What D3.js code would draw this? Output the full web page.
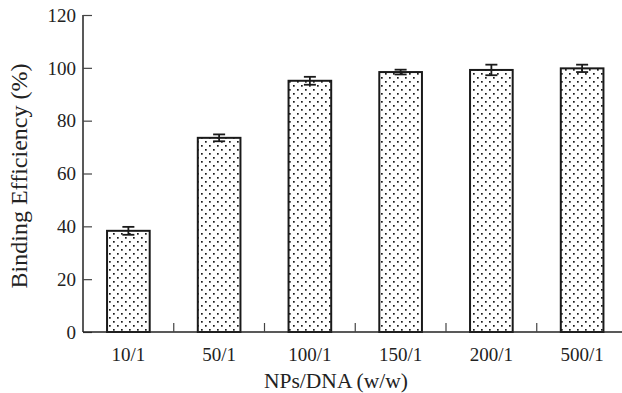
<!DOCTYPE html>
<html><head><meta charset="utf-8">
<script src="https://cdn.jsdelivr.net/npm/d3@7"></script>
<style>body{margin:0;background:#fff}svg{display:block}text{font-family:"Liberation Serif","Times New Roman",serif;fill:#222}</style>
</head><body>
<script>
const categories = ["10/1","50/1","100/1","150/1","200/1","500/1"];
const values = [38.3, 73.5, 95.1, 98.4, 99.2, 99.8];
const errors = [1.5, 1.3, 1.5, 0.9, 2.0, 1.4];
const yTicks = [0,20,40,60,80,100,120];

const W=622,H=393;
const svg=d3.select("body").append("svg").attr("width",W).attr("height",H);
const x=d3.scaleBand().domain(categories).range([83,627.5]).paddingInner(0.53).paddingOuter(0.265);
const y=d3.scaleLinear().domain([0,120]).range([332,15]);

const defs=svg.append("defs");
const pat=defs.append("pattern").attr("id","dots").attr("patternUnits","userSpaceOnUse")
  .attr("width",8).attr("height",8).attr("x",1).attr("y",1);
pat.append("rect").attr("x",0).attr("y",0).attr("width",1.7).attr("height",1.7).attr("fill","#1a1a1a");
pat.append("rect").attr("x",4).attr("y",4).attr("width",1.7).attr("height",1.7).attr("fill","#1a1a1a");

// bars
svg.selectAll("rect.bar").data(categories).enter().append("rect").attr("class","bar")
  .attr("x",d=>x(d)).attr("width",x.bandwidth())
  .attr("y",(d,i)=>y(values[i])).attr("height",(d,i)=>y(0)-y(values[i]))
  .attr("fill","url(#dots)").attr("stroke","#1a1a1a").attr("stroke-width",2);

// error bars
const eg=svg.append("g").attr("stroke","#1a1a1a").attr("stroke-width",1.8);
categories.forEach((c,i)=>{
  const cx=x(c)+x.bandwidth()/2, t=y(values[i]+errors[i]), b=y(values[i]-errors[i]);
  eg.append("line").attr("x1",cx).attr("x2",cx).attr("y1",t).attr("y2",b);
  eg.append("line").attr("x1",cx-6).attr("x2",cx+6).attr("y1",t).attr("y2",t);
  eg.append("line").attr("x1",cx-6).attr("x2",cx+6).attr("y1",b).attr("y2",b);
});

// y axis
const yAxis=d3.axisRight(y).tickValues(yTicks).tickSize(9).tickFormat(d3.format("d"));
const gy=svg.append("g").attr("transform","translate(83,0)").call(yAxis);
gy.select(".domain").attr("stroke","#222").attr("stroke-width",1.5).attr("d","M0,15H0V332");
gy.selectAll(".tick line").attr("stroke","#444").attr("stroke-width",1.2);
gy.selectAll(".tick text").attr("x",-7).attr("text-anchor","end").attr("font-size",19).attr("dy","0.33em");

// x axis
const gx=svg.append("g").attr("transform","translate(0,332)");
gx.append("line").attr("x1",83).attr("x2",627.5).attr("y1",0).attr("y2",0).attr("stroke","#222").attr("stroke-width",1.5);
const step=x.step();
categories.slice(1).forEach((c,i)=>{
  const tx=x(c)-x.paddingInner()*step/2;
  gx.append("line").attr("x1",tx).attr("x2",tx).attr("y1",0).attr("y2",-9).attr("stroke","#444").attr("stroke-width",1.2);
});
gx.selectAll("text.xl").data(categories).enter().append("text").attr("class","xl")
  .attr("x",d=>x(d)+x.bandwidth()/2).attr("y",29).attr("text-anchor","middle").attr("font-size",19).text(d=>d);

svg.append("text").attr("x",336).attr("y",388).attr("text-anchor","middle").attr("font-size",21.5).text("NPs/DNA (w/w)");
svg.append("text").attr("transform","translate(27,176) rotate(-90)").attr("text-anchor","middle").attr("font-size",24).text("Binding Efficiency (%)");
</script>
</body></html>
